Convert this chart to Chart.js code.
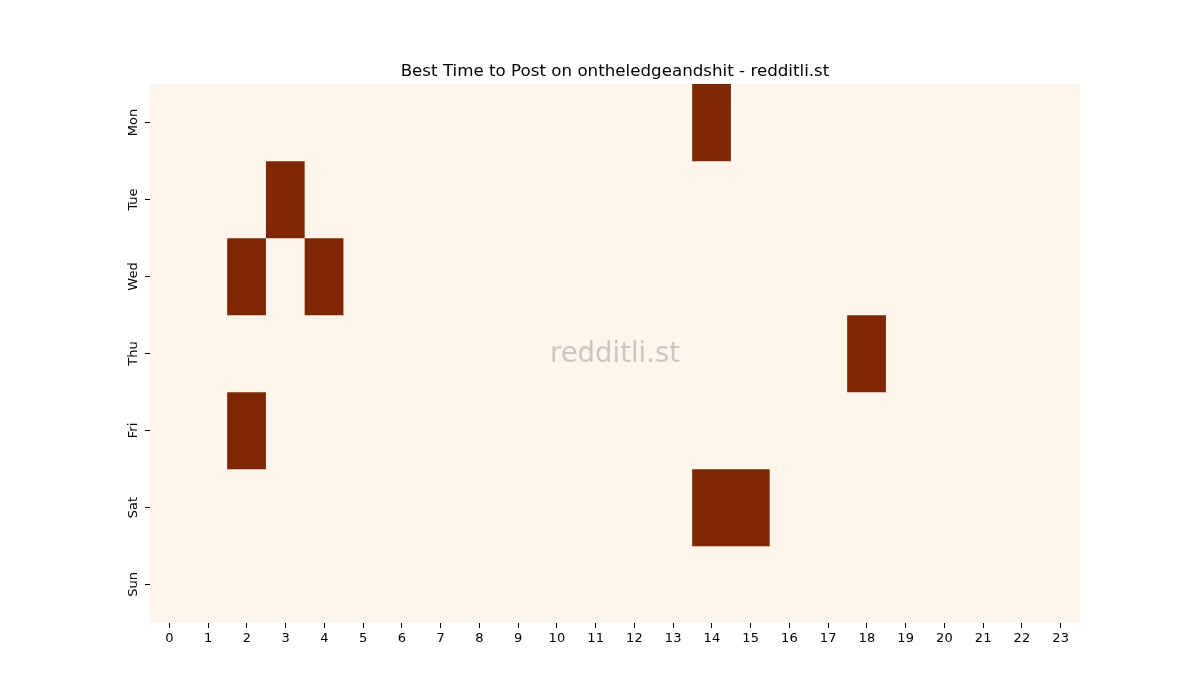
<!DOCTYPE html>
<html>
<head>
<meta charset="utf-8">
<script src="https://cdn.jsdelivr.net/npm/chart.js@4"></script>
<style>
  body { margin: 0; background: #fff; }
  #wrap { width: 1200px; height: 700px; }
</style>
</head>
<body>
<div id="wrap"><canvas id="heat"></canvas></div>
<script>
// hours on the x axis, days on the y axis
const hours = ['0','1','2','3','4','5','6','7','8','9','10','11','12','13','14','15','16','17','18','19','20','21','22','23'];
const days = ['Mon', 'Tue', 'Wed', 'Thu', 'Fri', 'Sat', 'Sun'];

// 1 = best time, 0 = not
const mon = [0,0,0,0,0,0,0,0,0,0,0,0,0,0,1,0,0,0,0,0,0,0,0,0];
const tue = [0,0,0,1,0,0,0,0,0,0,0,0,0,0,0,0,0,0,0,0,0,0,0,0];
const wed = [0,0,1,0,1,0,0,0,0,0,0,0,0,0,0,0,0,0,0,0,0,0,0,0];
const thu = [0,0,0,0,0,0,0,0,0,0,0,0,0,0,0,0,0,0,1,0,0,0,0,0];
const fri = [0,0,1,0,0,0,0,0,0,0,0,0,0,0,0,0,0,0,0,0,0,0,0,0];
const sat = [0,0,0,0,0,0,0,0,0,0,0,0,0,0,1,1,0,0,0,0,0,0,0,0];
const sun = [0,0,0,0,0,0,0,0,0,0,0,0,0,0,0,0,0,0,0,0,0,0,0,0];
const rows = [mon, tue, wed, thu, fri, sat, sun];

const titleText = 'Best Time to Post on ontheledgeandshit - redditli.st';
const low = '#fff5eb';
const high = '#7f2704';

const font = 'DejaVu Sans';

const datasets = rows.map((row, r) => ({
    label: days[r],
    data: row.map(() => [r, r + 1]),
    backgroundColor: row.map(v => v ? high : low),
    borderWidth: 0,
    barPercentage: 1,
    categoryPercentage: 1,
    grouped: false
}));

// plot background, title over the plot, watermark
const extras = {
    id: 'extras',
    beforeDatasetsDraw(chart) {
        const a = chart.chartArea, c = chart.ctx;
        c.save();
        c.fillStyle = low;
        c.fillRect(a.left, a.top, a.right - a.left, a.bottom - a.top);
        c.restore();
    },
    afterDatasetsDraw(chart) {
        const a = chart.chartArea, c = chart.ctx;
        const cx = (a.left + a.right) / 2;
        c.save();
        c.textAlign = 'center';
        c.textBaseline = 'middle';
        c.font = '27.5px "' + font + '"';
        c.fillStyle = 'rgba(128,128,128,0.4)';
        c.fillText('redditli.st', cx, (a.top + a.bottom) / 2 + 1);
        c.font = '16.7px "' + font + '"';
        c.fillStyle = '#000';
        c.fillText(titleText, cx, a.top - 12);
        c.restore();
    }
};

new Chart(document.getElementById('heat'), {
    type: 'bar',
    data: { labels: hours, datasets: datasets },
    plugins: [extras],
    options: {
        responsive: true,
        maintainAspectRatio: false,
        animation: false,
        layout: { padding: { left: 0, right: 120, top: 84, bottom: 0 } },
        plugins: {
            legend: { display: false },
            tooltip: { enabled: false },
            title: { display: false }
        },
        scales: {
            x: {
                offset: true,
                grid: { display: true, drawOnChartArea: false, offset: false, tickLength: 5, color: '#000' },
                border: { display: false },
                ticks: { color: '#000', font: { family: font, size: 13 }, maxRotation: 0, autoSkip: false, padding: 3 },
                afterFit(axis) { axis.height = 77; }
            },
            y: {
                type: 'linear',
                min: 0,
                max: 7,
                reverse: true,
                grid: { display: true, drawOnChartArea: false, tickLength: 5, color: '#000' },
                border: { display: false },
                afterBuildTicks(axis) { axis.ticks = days.map((d, i) => ({ value: i + 0.5 })); },
                ticks: {
                    color: '#000',
                    font: { family: font, size: 13 },
                    minRotation: 90,
                    maxRotation: 90,
                    crossAlign: 'center',
                    padding: -2.5,
                    callback: v => days[Math.floor(v)]
                },
                afterFit(axis) { axis.width = 150; }
            }
        }
    }
});
</script>
</body>
</html>
